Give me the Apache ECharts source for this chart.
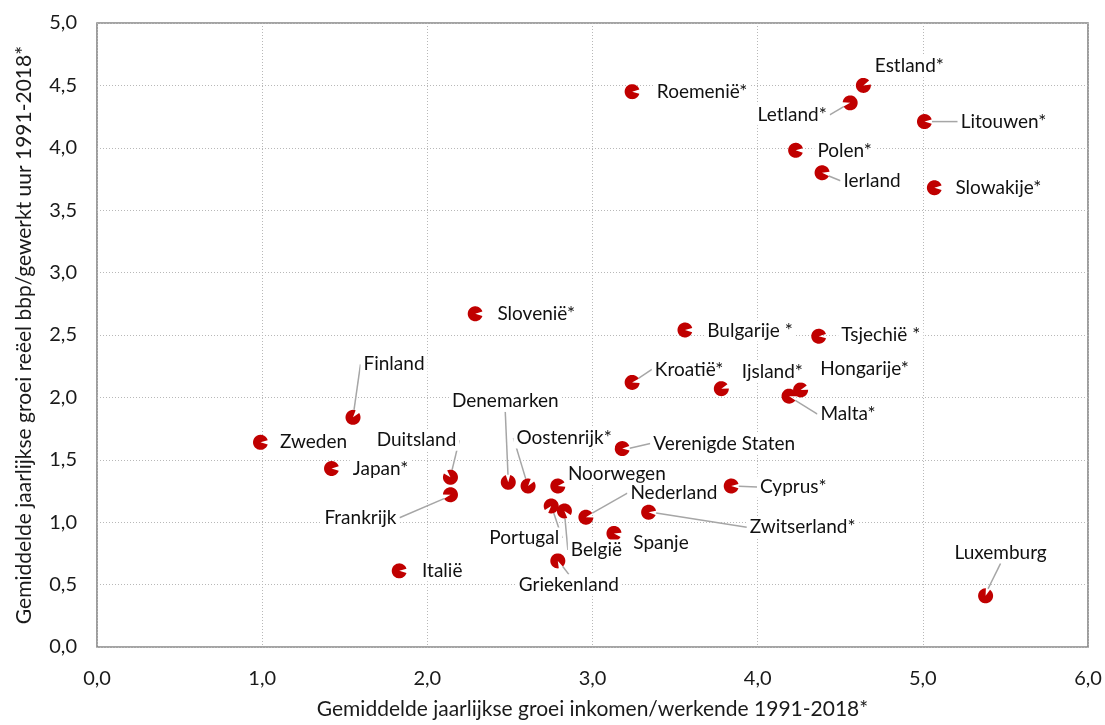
<!DOCTYPE html>
<html>
<head>
<meta charset="utf-8">
<script src="https://cdn.jsdelivr.net/npm/echarts@6/dist/echarts.min.js"></script>
<style>
html,body{margin:0;padding:0;background:#fff;overflow:hidden;}
#chart{width:1105px;height:725px;}
</style>
</head>
<body>
<div id="chart"></div>
<script>
// ---- data ----
const countries = ['Roemenië*','Estland*','Letland*','Litouwen*','Polen*','Ierland','Slowakije*','Slovenië*','Bulgarije *','Tsjechië *','Kroatië*','Ijsland*','Hongarije*','Malta*','Finland','Zweden','Verenigde Staten','Japan*','Duitsland','Denemarken','Oostenrijk*','Noorwegen','Cyprus*','Frankrijk','Portugal','België','Zwitserland*','Nederland','Spanje','Griekenland','Italië','Luxemburg'];
const incomeGrowth = [3.24,4.64,4.56,5.01,4.23,4.39,5.07,2.29,3.56,4.37,3.24,3.78,4.26,4.19,1.55,0.99,3.18,1.42,2.14,2.49,2.61,2.79,3.84,2.14,2.75,2.83,3.34,2.96,3.13,2.79,1.83,5.38];
const gdpGrowth    = [4.45,4.50,4.36,4.21,3.98,3.80,3.68,2.67,2.54,2.49,2.12,2.07,2.06,2.01,1.84,1.64,1.59,1.43,1.36,1.32,1.29,1.29,1.29,1.22,1.13,1.09,1.08,1.04,0.91,0.69,0.61,0.41];
const xTicks = [0,1,2,3,4,5,6];
const yTicks = [0,0.5,1,1.5,2,2.5,3,3.5,4,4.5,5];

// ---- layout (label placement in pixels, leader-line flags) ----
const labelOffset = {
 'Roemenië*':[70,0],'Estland*':[46,-20],'Letland*':[-58,12],'Litouwen*':[79,0],'Polen*':[49,1],
 'Ierland':[50,8],'Slowakije*':[64,0],'Slovenië*':[61,0],'Bulgarije *':[65,1],'Tsjechië *':[62,-1],
 'Kroatië*':[57,-13],'Ijsland*':[51,-17],'Hongarije*':[64,-21],'Malta*':[59,18],'Finland':[41,-53],
 'Zweden':[53,0],'Verenigde Staten':[102,-5],'Japan*':[49,0],'Duitsland':[-34,-37],'Denemarken':[-3,-81],
 'Oostenrijk*':[36,-48],'Noorwegen':[59,-12],'Cyprus*':[62,1],'Frankrijk':[-90,23],'Portugal':[-27,32],
 'België':[32,39],'Zwitserland*':[154,15],'Nederland':[88,-24],'Spanje':[47,9],'Griekenland':[11,24],
 'Italië':[43,0],'Luxemburg':[15,-43]
};
const withLeader = ['Letland*','Litouwen*','Ierland','Kroatië*','Malta*','Finland','Verenigde Staten','Duitsland','Denemarken','Oostenrijk*','Nederland','Cyprus*','Frankrijk','Portugal','België','Zwitserland*','Griekenland','Luxemburg'];

function pacman(half){
  let d = 'M0 0';
  const pts = [half];
  for (let a = Math.ceil(half / 5) * 5; a < 360 - half; a += 5) pts.push(a);
  pts.push(360 - half);
  pts.forEach(a => {
    const r = a * Math.PI / 180;
    d += ' L' + Math.cos(r).toFixed(4) + ' ' + Math.sin(r).toFixed(4);
  });
  d += ' Z M1 0 L1 0.001 Z';
  return 'path://' + d;
}
const markerSymbol = pacman(17);

const fmt = v => v.toFixed(1).replace('.', ',');
const FONT = 'Lato';

const points = countries.map((c, i) => {
  const o = labelOffset[c];
  return {
    name: c,
    value: [incomeGrowth[i], gdpGrowth[i]],
    symbolRotate: Math.atan2(-o[1], o[0]) * 180 / Math.PI,
    labelLine: { show: withLeader.indexOf(c) >= 0 }
  };
});

const chart = echarts.init(document.getElementById('chart'), null, {renderer: 'canvas'});
chart.setOption({
  animation: false,
  backgroundColor: '#fff',
  grid: { left: 97, right: 17, top: 23, bottom: 72, show: true, borderColor: '#868686', borderWidth: 1.6, backgroundColor: 'transparent' },
  xAxis: {
    type: 'value', min: xTicks[0], max: xTicks[xTicks.length-1], interval: 1,
    name: 'Gemiddelde jaarlijkse groei inkomen/werkende 1991-2018*',
    nameLocation: 'middle', nameGap: 52,
    nameTextStyle: { fontFamily: FONT, fontSize: 21, color: '#1a1a1a' },
    axisLine: { show: false }, axisTick: { show: false },
    axisLabel: { formatter: fmt, fontFamily: FONT, fontSize: 20, color: '#1a1a1a', margin: 22 },
    splitLine: { show: true, lineStyle: { color: '#b8b8b8', width: 1, type: [1, 2] } }
  },
  yAxis: {
    type: 'value', min: yTicks[0], max: yTicks[yTicks.length-1], interval: 0.5,
    name: 'Gemiddelde jaarlijkse groei reëel bbp/gewerkt uur 1991-2018*',
    nameLocation: 'middle', nameGap: 62,
    nameTextStyle: { fontFamily: FONT, fontSize: 21, color: '#1a1a1a' },
    axisLine: { show: false }, axisTick: { show: false },
    axisLabel: { formatter: fmt, fontFamily: FONT, fontSize: 20, color: '#1a1a1a', margin: 20 },
    splitLine: { show: true, lineStyle: { color: '#b8b8b8', width: 1, type: [1, 2] } }
  },
  series: [{
    type: 'scatter',
    symbol: markerSymbol,
    symbolSize: 15,
    itemStyle: { color: '#c00000', opacity: 1 },
    data: points,
    label: {
      show: true, position: 'inside', align: 'center', verticalAlign: 'middle',
      formatter: p => p.name,
      fontFamily: FONT, fontSize: 19, color: '#111',
      backgroundColor: '#fff', padding: [1, 3]
    },
    labelLine: { show: true, lineStyle: { color: '#a6a6a6', width: 1.5 } },
    labelLayout: p => {
      const o = labelOffset[countries[p.dataIndex]];
      return { dx: o[0], dy: o[1] };
    },
    emphasis: { disabled: true }
  }]
});
</script>
</body>
</html>
